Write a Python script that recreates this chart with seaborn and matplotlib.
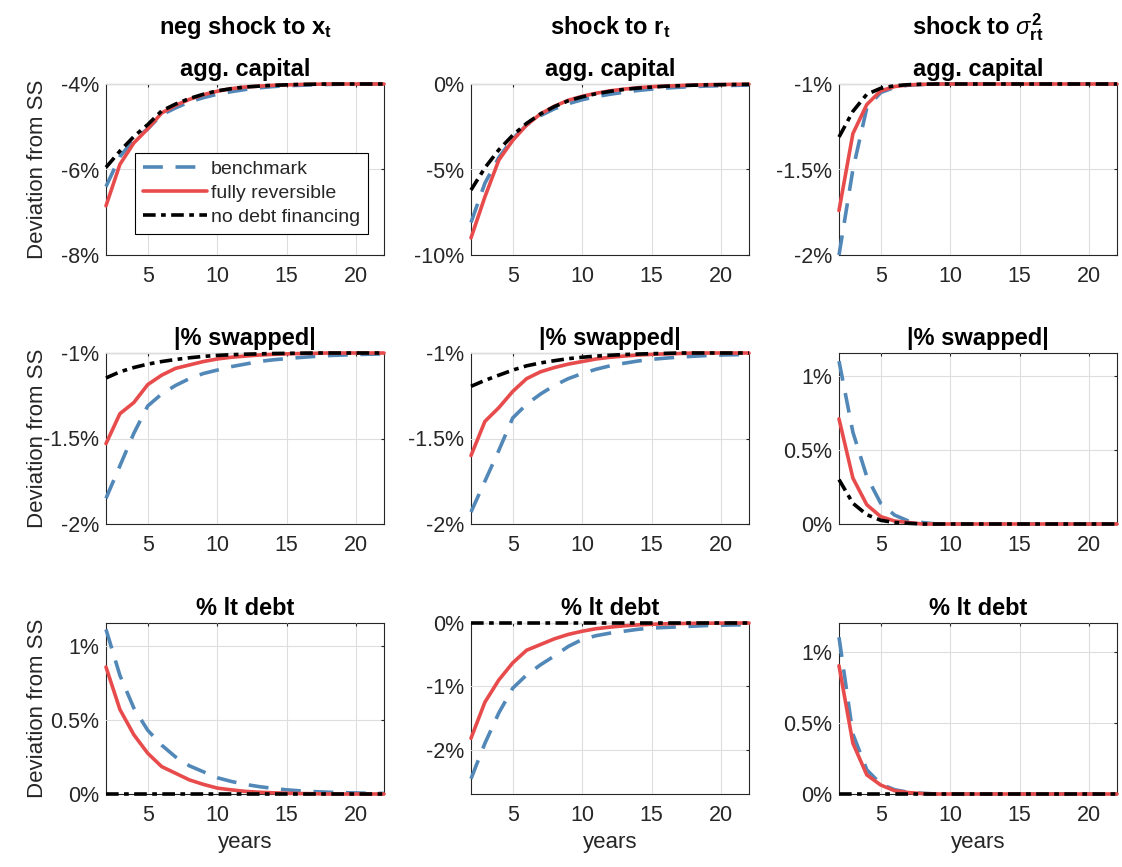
import matplotlib
matplotlib.use("Agg")
import matplotlib.pyplot as plt
import pandas as pd
import seaborn as sns
from matplotlib.ticker import FuncFormatter

# horizon and model names
years = list(range(2, 23))
models = ["benchmark", "fully reversible", "no debt financing"]

# column headers and row titles
col_titles = [r"neg shock to $\mathbf{x_t}$",
              r"shock to $\mathbf{r_t}$",
              r"shock to $\sigma^{\mathbf{2}}_{\mathbf{rt}}$"]
row_titles = ["agg. capital", "|% swapped|", "% lt debt"]

# ---- agg. capital ----
cap_x_bench = [-6.40, -5.70, -5.30, -5.05, -4.72, -4.56, -4.42, -4.32, -4.24, -4.18, -4.13,
               -4.09, -4.06, -4.04, -4.03, -4.02, -4.01, -4.005, -4.0, -4.0, -4.0]
cap_x_rev = [-6.85, -5.88, -5.38, -5.05, -4.68, -4.50, -4.36, -4.25, -4.17, -4.11, -4.07,
             -4.05, -4.03, -4.02, -4.01, -4.005, -4.0, -4.0, -4.0, -4.0, -4.0]
cap_x_nodebt = [-5.95, -5.57, -5.23, -4.95, -4.63, -4.47, -4.34, -4.24, -4.16, -4.11, -4.07,
                -4.05, -4.03, -4.02, -4.01, -4.005, -4.0, -4.0, -4.0, -4.0, -4.0]

cap_r_bench = [-8.1, -5.8, -4.3, -3.2, -2.4, -1.85, -1.45, -1.15, -0.92, -0.74, -0.60,
               -0.48, -0.38, -0.30, -0.24, -0.19, -0.15, -0.12, -0.10, -0.08, -0.06]
cap_r_rev = [-9.0, -6.6, -4.45, -3.3, -2.4, -1.75, -1.30, -0.95, -0.72, -0.54, -0.40,
             -0.30, -0.22, -0.16, -0.12, -0.09, -0.06, -0.04, -0.03, -0.02, -0.01]
cap_r_nodebt = [-6.2, -4.9, -3.85, -3.0, -2.3, -1.75, -1.32, -0.98, -0.75, -0.57, -0.43,
                -0.32, -0.24, -0.18, -0.13, -0.10, -0.07, -0.05, -0.04, -0.03, -0.02]

cap_s_bench = [-2.0, -1.5, -1.14, -1.05, -1.02, -1.007, -1.003, -1.0, -1.0, -1.0, -1.0,
               -1.0, -1.0, -1.0, -1.0, -1.0, -1.0, -1.0, -1.0, -1.0, -1.0]
cap_s_rev = [-1.74, -1.29, -1.12, -1.04, -1.015, -1.005, -1.002, -1.0, -1.0, -1.0, -1.0,
             -1.0, -1.0, -1.0, -1.0, -1.0, -1.0, -1.0, -1.0, -1.0, -1.0]
cap_s_nodebt = [-1.31, -1.16, -1.06, -1.025, -1.01, -1.004, -1.001, -1.0, -1.0, -1.0, -1.0,
                -1.0, -1.0, -1.0, -1.0, -1.0, -1.0, -1.0, -1.0, -1.0, -1.0]

# ---- |% swapped| ----
swp_x_bench = [-1.85, -1.66, -1.47, -1.31, -1.24, -1.19, -1.15, -1.12, -1.10, -1.08, -1.065,
               -1.05, -1.04, -1.033, -1.026, -1.02, -1.015, -1.012, -1.009, -1.007, -1.005]
swp_x_rev = [-1.53, -1.355, -1.29, -1.185, -1.13, -1.09, -1.07, -1.05, -1.035, -1.025, -1.018,
             -1.012, -1.008, -1.005, -1.003, -1.002, -1.0, -1.0, -1.0, -1.0, -1.0]
swp_x_nodebt = [-1.146, -1.11, -1.085, -1.065, -1.05, -1.038, -1.028, -1.02, -1.014, -1.01, -1.007,
                -1.005, -1.003, -1.002, -1.001, -1.0, -1.0, -1.0, -1.0, -1.0, -1.0]

swp_r_bench = [-1.93, -1.75, -1.57, -1.38, -1.30, -1.24, -1.19, -1.15, -1.12, -1.095, -1.075,
               -1.06, -1.047, -1.037, -1.03, -1.024, -1.019, -1.015, -1.012, -1.01, -1.008]
swp_r_rev = [-1.60, -1.40, -1.32, -1.225, -1.15, -1.11, -1.085, -1.065, -1.05, -1.035, -1.025,
             -1.018, -1.012, -1.008, -1.005, -1.003, -1.0, -1.0, -1.0, -1.0, -1.0]
swp_r_nodebt = [-1.195, -1.16, -1.13, -1.10, -1.075, -1.058, -1.045, -1.033, -1.025, -1.018, -1.013,
                -1.009, -1.006, -1.004, -1.002, -1.0, -1.0, -1.0, -1.0, -1.0, -1.0]

swp_s_bench = [1.10, 0.62, 0.32, 0.14, 0.06, 0.02, 0.01, 0.0, 0.0, 0.0, 0.0,
               0.0, 0.0, 0.0, 0.0, 0.0, 0.0, 0.0, 0.0, 0.0, 0.0]
swp_s_rev = [0.71, 0.31, 0.13, 0.05, 0.02, 0.01, 0.0, 0.0, 0.0, 0.0, 0.0,
             0.0, 0.0, 0.0, 0.0, 0.0, 0.0, 0.0, 0.0, 0.0, 0.0]
swp_s_nodebt = [0.30, 0.14, 0.063, 0.025, 0.01, 0.005, 0.0, 0.0, 0.0, 0.0, 0.0,
                0.0, 0.0, 0.0, 0.0, 0.0, 0.0, 0.0, 0.0, 0.0, 0.0]

# ---- % lt debt ----
ltd_x_bench = [1.11, 0.80, 0.58, 0.43, 0.33, 0.25, 0.19, 0.15, 0.11, 0.085, 0.065,
               0.05, 0.038, 0.028, 0.021, 0.016, 0.012, 0.009, 0.007, 0.005, 0.004]
ltd_x_rev = [0.856, 0.57, 0.40, 0.275, 0.185, 0.14, 0.095, 0.065, 0.04, 0.028, 0.018,
             0.012, 0.008, 0.005, 0.003, 0.002, 0.0, 0.0, 0.0, 0.0, 0.0]
ltd_x_nodebt = [0.0] * 21

ltd_r_bench = [-2.46, -1.90, -1.42, -1.03, -0.82, -0.66, -0.52, -0.37, -0.26, -0.20, -0.16,
               -0.13, -0.10, -0.08, -0.07, -0.06, -0.05, -0.04, -0.035, -0.03, -0.025]
ltd_r_rev = [-1.82, -1.25, -0.90, -0.63, -0.43, -0.34, -0.25, -0.18, -0.13, -0.09, -0.065,
             -0.045, -0.03, -0.02, -0.013, -0.008, -0.005, -0.003, -0.002, 0.0, 0.0]
ltd_r_nodebt = [0.0] * 21

ltd_s_bench = [1.10, 0.42, 0.17, 0.07, 0.03, 0.012, 0.005, 0.0, 0.0, 0.0, 0.0,
               0.0, 0.0, 0.0, 0.0, 0.0, 0.0, 0.0, 0.0, 0.0, 0.0]
ltd_s_rev = [0.90, 0.356, 0.134, 0.063, 0.023, 0.01, 0.003, 0.0, 0.0, 0.0, 0.0,
             0.0, 0.0, 0.0, 0.0, 0.0, 0.0, 0.0, 0.0, 0.0, 0.0]
ltd_s_nodebt = [0.0] * 21

series = [
    [(cap_x_bench, cap_x_rev, cap_x_nodebt), (cap_r_bench, cap_r_rev, cap_r_nodebt), (cap_s_bench, cap_s_rev, cap_s_nodebt)],
    [(swp_x_bench, swp_x_rev, swp_x_nodebt), (swp_r_bench, swp_r_rev, swp_r_nodebt), (swp_s_bench, swp_s_rev, swp_s_nodebt)],
    [(ltd_x_bench, ltd_x_rev, ltd_x_nodebt), (ltd_r_bench, ltd_r_rev, ltd_r_nodebt), (ltd_s_bench, ltd_s_rev, ltd_s_nodebt)],
]

# axis limits and ticks per panel
ylims = [[(-8, -4), (-10, 0), (-2, -1)],
         [(-2, -1), (-2, -1), (0, 1.155)],
         [(0, 1.153), (-2.7, 0), (0, 1.2)]]
yticks = [[[-8, -6, -4], [-10, -5, 0], [-2, -1.5, -1]],
          [[-2, -1.5, -1], [-2, -1.5, -1], [0, 0.5, 1]],
          [[0, 0.5, 1], [-2, -1, 0], [0, 0.5, 1]]]

palette = {"benchmark": "#5288B8", "fully reversible": "#E84B4B", "no debt financing": "#000000"}
dashes = {"benchmark": (5.5, 3.5), "fully reversible": "", "no debt financing": (3.5, 1.5, 1.3, 1.5)}

sns.set_style("white")
plt.rcParams["font.family"] = ["Liberation Sans", "DejaVu Sans"]
plt.rcParams["mathtext.fontset"] = "custom"
plt.rcParams["mathtext.rm"] = "Liberation Sans"
plt.rcParams["mathtext.it"] = "Liberation Sans:italic"
plt.rcParams["mathtext.bf"] = "Liberation Sans:bold"

fig = plt.figure(figsize=(11.22, 8.67), dpi=100)
lefts = [106 / 1122, 471 / 1122, 839 / 1122]
bottoms = [612 / 867, 343 / 867, 73 / 867]
w, h = 278 / 1122, 171 / 867

grey = "#262626"
for r in range(3):
    for c in range(3):
        ax = fig.add_axes([lefts[c], bottoms[r], w, h])
        bench, rev, nodebt = series[r][c]
        df = pd.DataFrame({
            "year": years * 3,
            "value": bench + rev + nodebt,
            "model": [m for m in models for _ in years],
        })
        sns.lineplot(data=df, x="year", y="value", hue="model", style="model",
                     hue_order=models, style_order=models, palette=palette,
                     dashes=dashes, lw=2.6, legend=False, errorbar=None, ax=ax)
        for ln in ax.get_lines():
            ln.set_clip_on(False)

        ax.set_xlim(2, 22)
        ax.set_ylim(*ylims[r][c])
        ax.set_xticks([5, 10, 15, 20])
        ax.set_yticks(yticks[r][c])
        ax.yaxis.set_major_formatter(FuncFormatter(lambda v, _: f"{v:g}%"))
        ax.grid(True, color="#dedede", lw=0.8)
        ax.set_axisbelow(True)
        for sp in ax.spines.values():
            sp.set_color(grey)
            sp.set_linewidth(0.8)
            sp.set_zorder(0.5)
        ax.tick_params(direction="in", length=2.5, width=0.8, color=grey,
                       labelcolor=grey, labelsize=15.5, top=True, right=True)
        ax.tick_params(axis="x", pad=8)
        ax.tick_params(axis="y", pad=5)

        ax.set_title(row_titles[r], fontsize=17, fontweight="bold", pad=6, color="black")
        if r == 0:
            ax.text(0.5, 1.29, col_titles[c], transform=ax.transAxes, ha="center",
                    va="baseline", fontsize=17, fontweight="bold", color="black")
        ax.set_xlabel("years" if r == 2 else "", fontsize=16, color=grey)
        ax.xaxis.set_label_coords(0.5, -0.225)
        ax.set_ylabel("Deviation from SS" if c == 0 else "", fontsize=16, color=grey)
        ax.yaxis.set_label_coords(-0.21, 0.5)

        if r == 0 and c == 0:
            leg = ax.legend(ax.get_lines()[:3], models, loc="upper left",
                            bbox_to_anchor=(0.104, 0.598), borderaxespad=0,
                            fontsize=14, handlelength=3.3, handletextpad=0.2,
                            labelspacing=0.32, borderpad=0.4, fancybox=False,
                            framealpha=1, edgecolor="black")
            leg.get_frame().set_linewidth(0.8)
            for t in leg.get_texts():
                t.set_color(grey)

fig.savefig("out.png", dpi=100)
